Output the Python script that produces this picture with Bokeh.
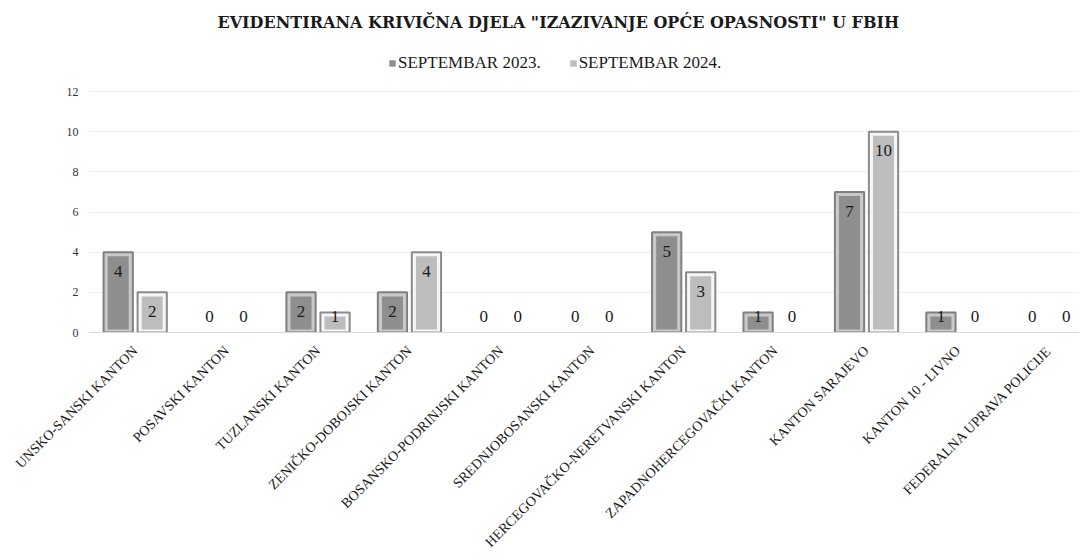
from bokeh.plotting import figure
from bokeh.models import ColumnDataSource, Range1d, FixedTicker, Legend, LegendItem, Title
from bokeh.embed import file_html
from bokeh.resources import INLINE
import math

categories = ["UNSKO-SANSKI KANTON", "POSAVSKI KANTON", "TUZLANSKI KANTON",
              "ZENIČKO-DOBOJSKI KANTON", "BOSANSKO-PODRINJSKI KANTON",
              "SREDNJOBOSANSKI KANTON", "HERCEGOVAČKO-NERETVANSKI KANTON",
              "ZAPADNOHERCEGOVAČKI KANTON", "KANTON SARAJEVO", "KANTON 10 - LIVNO",
              "FEDERALNA UPRAVA POLICIJE"]
sep_2023 = [4, 0, 2, 2, 0, 0, 5, 1, 7, 1, 0]
sep_2024 = [2, 0, 1, 4, 0, 0, 3, 0, 10, 0, 0]
series_names = ["SEPTEMBAR 2023.", "SEPTEMBAR 2024."]
y_ticks = [0, 2, 4, 6, 8, 10, 12]

FONT = "Liberation Serif"
idx = list(range(len(categories)))

p = figure(frame_width=990, frame_height=291, output_backend="svg", toolbar_location=None,
           x_range=Range1d(-0.5, 10.33), y_range=Range1d(0, 14.5),
           min_border_left=89, min_border_right=0, min_border_bottom=0, min_border_top=40)
p.outline_line_color = None
p.background_fill_color = "white"

OFF = 0.186
BW = 0.32
series = [
    (sep_2023, -OFF, "#7f7f7f", "#c9c9c9", "#8e8e8e"),
    (sep_2024, OFF, "#8a8a8a", "#f6f6f6", "#bdbdbd"),
]
legend_items = []
for (vals, off, edge, ring, fill), name in zip(series, series_names):
    xs = [i + off for i in idx]
    src = ColumnDataSource(dict(
        x=xs, ly=[max(v - 0.95, 0.8) for v in vals], lt=[str(v) for v in vals],
    ))
    pos = [v > 0 for v in vals]
    src_bar = ColumnDataSource(dict(
        x=[x for x, k in zip(xs, pos) if k],
        top=[v for v, k in zip(vals, pos) if k],
        itop=[max(v - 0.2, 0) for v, k in zip(vals, pos) if k],
        ibot=[0.15 for v, k in zip(vals, pos) if k],
    ))
    p.vbar(x="x", top="top", bottom=0, width=BW, source=src_bar,
           fill_color=ring, line_color=edge, line_width=2)
    inner = p.vbar(x="x", top="itop", bottom="ibot", width=BW - 0.09, source=src_bar,
                   fill_color=fill, line_color=None)
    p.text(x="x", y="ly", text="lt", source=src, text_align="center",
           text_baseline="middle", text_font_size="17px", text_color="#1a1a1a",
           text_font=FONT)
    legend_items.append(LegendItem(label=name, renderers=[inner]))

legend = Legend(items=legend_items, orientation="horizontal", location=(299, 259),
                label_text_font=FONT, label_text_font_size="17px",
                label_text_color="#1a1a1a", glyph_width=8, glyph_height=8,
                spacing=28, label_standoff=2, border_line_color=None,
                background_fill_alpha=0, margin=0, padding=4)
p.add_layout(legend, "center")

title = Title(text='EVIDENTIRANA KRIVIČNA DJELA "IZAZIVANJE OPĆE OPASNOSTI"  U FBIH',
              align="left", text_font="DejaVu Serif", text_font_size="16px",
              text_font_style="bold", text_color="#1a1a1a", offset=128,
              standoff=20)
p.add_layout(title, "above")

p.xaxis.ticker = FixedTicker(ticks=idx)
p.xaxis.major_label_overrides = {i: c for i, c in zip(idx, categories)}
p.xaxis.major_label_orientation = math.pi / 4
p.xaxis.major_label_text_font = FONT
p.xaxis.major_label_text_font_size = "14px"
p.xaxis.major_label_text_color = "#1a1a1a"
p.xaxis.axis_line_color = "#d9d9d9"
p.xaxis.major_tick_line_color = None
p.xaxis.minor_tick_line_color = None
p.xaxis.major_label_standoff = 10

p.yaxis.ticker = FixedTicker(ticks=y_ticks)
p.yaxis.major_label_text_font = FONT
p.yaxis.major_label_text_font_size = "12px"
p.yaxis.major_label_text_color = "#333333"
p.yaxis.axis_line_color = None
p.yaxis.major_tick_line_color = None
p.yaxis.minor_tick_line_color = None
p.yaxis.major_label_standoff = 5

p.xgrid.grid_line_color = None
p.ygrid.grid_line_color = "#f0f0f0"

open("out.html", "w").write(file_html(p, INLINE))
